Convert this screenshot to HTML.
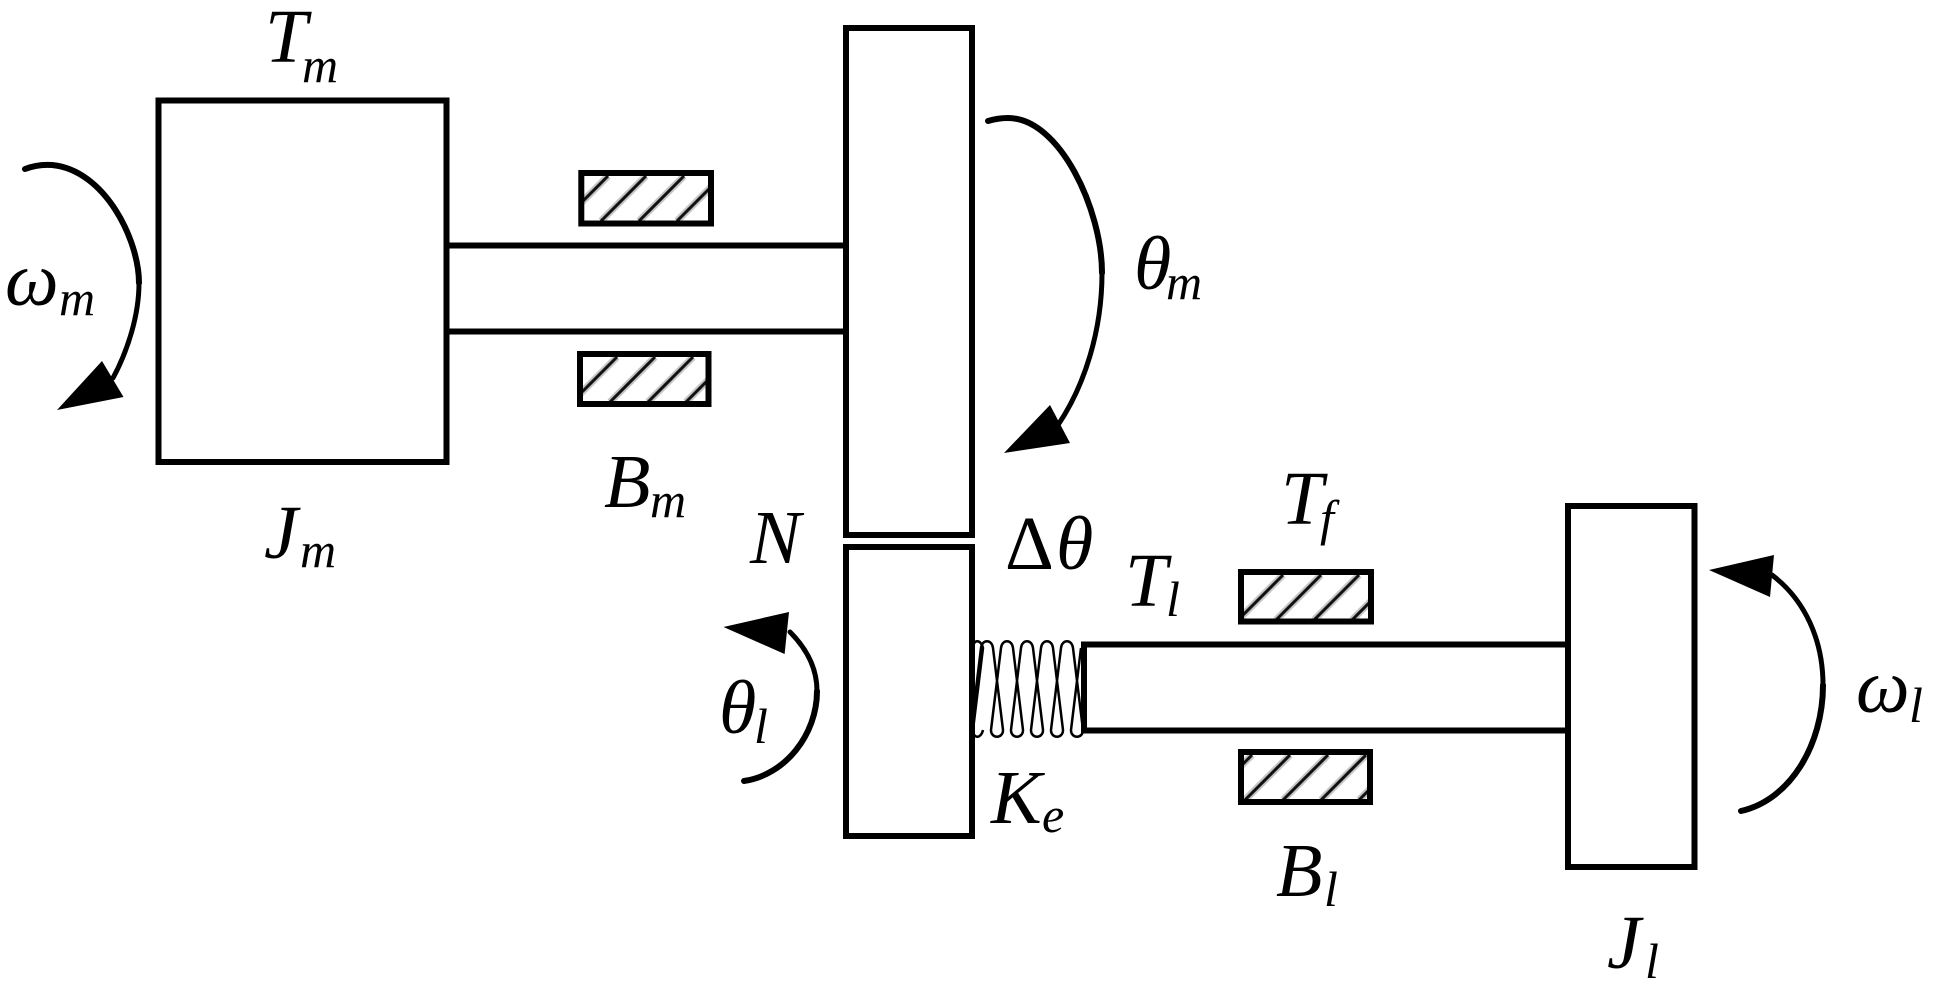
<!DOCTYPE html>
<html><head><meta charset="utf-8"><style>html,body{margin:0;padding:0;background:#fff;width:1936px;height:996px;overflow:hidden}svg{display:block}text{font-family:"Liberation Serif",serif;font-style:italic;fill:#000}.b{font-size:76px}.s{font-size:50px}.h2 line{stroke:#c4c4c4;stroke-width:7}.h line{stroke:#111;stroke-width:3}</style></head><body>
<svg width="1936" height="996" viewBox="0 0 1936 996" xmlns="http://www.w3.org/2000/svg">
<defs>
<clipPath id="c1"><rect x="584" y="176" width="124" height="45"/></clipPath>
<clipPath id="c2"><rect x="583" y="357" width="123" height="45"/></clipPath>
<clipPath id="c3"><rect x="1244" y="575" width="124" height="44"/></clipPath>
<clipPath id="c4"><rect x="1244" y="755" width="123" height="45"/></clipPath>
</defs>
<rect width="1936" height="996" fill="#fff"/>
<g class="h2">
<g clip-path="url(#c1)"><line x1="608" y1="176" x2="563" y2="221"/><line x1="646" y1="176" x2="601" y2="221"/><line x1="684" y1="176" x2="639" y2="221"/><line x1="722" y1="176" x2="677" y2="221"/></g>
<g clip-path="url(#c2)"><line x1="617" y1="357" x2="572" y2="402"/><line x1="655" y1="357" x2="610" y2="402"/><line x1="693" y1="357" x2="648" y2="402"/><line x1="731" y1="357" x2="686" y2="402"/></g>
<g clip-path="url(#c3)"><line x1="1283" y1="575" x2="1238" y2="620"/><line x1="1321" y1="575" x2="1276" y2="620"/><line x1="1359" y1="575" x2="1314" y2="620"/><line x1="1397" y1="575" x2="1352" y2="620"/></g>
<g clip-path="url(#c4)"><line x1="1252" y1="755" x2="1207" y2="800"/><line x1="1290" y1="755" x2="1245" y2="800"/><line x1="1328" y1="755" x2="1283" y2="800"/><line x1="1366" y1="755" x2="1321" y2="800"/><line x1="1404" y1="755" x2="1359" y2="800"/></g>
</g>
<g class="h">
<g clip-path="url(#c1)"><line x1="608" y1="176" x2="563" y2="221"/><line x1="646" y1="176" x2="601" y2="221"/><line x1="684" y1="176" x2="639" y2="221"/><line x1="722" y1="176" x2="677" y2="221"/></g>
<g clip-path="url(#c2)"><line x1="617" y1="357" x2="572" y2="402"/><line x1="655" y1="357" x2="610" y2="402"/><line x1="693" y1="357" x2="648" y2="402"/><line x1="731" y1="357" x2="686" y2="402"/></g>
<g clip-path="url(#c3)"><line x1="1283" y1="575" x2="1238" y2="620"/><line x1="1321" y1="575" x2="1276" y2="620"/><line x1="1359" y1="575" x2="1314" y2="620"/><line x1="1397" y1="575" x2="1352" y2="620"/></g>
<g clip-path="url(#c4)"><line x1="1252" y1="755" x2="1207" y2="800"/><line x1="1290" y1="755" x2="1245" y2="800"/><line x1="1328" y1="755" x2="1283" y2="800"/><line x1="1366" y1="755" x2="1321" y2="800"/><line x1="1404" y1="755" x2="1359" y2="800"/></g>
</g>
<g fill="none" stroke="#000" stroke-width="6">
<rect x="158.5" y="100.5" width="288" height="361.5"/>
<rect x="846" y="28" width="126" height="507"/>
<rect x="846" y="547" width="126" height="289"/>
<rect x="1568" y="506" width="126.500" height="361"/>
<path d="M447 245.500H846M447 331.500H846"/>
<path d="M1084 644.500H1568M1084 730.500H1568M1084 641.500V733.500"/>
<rect x="581.300" y="173" width="129.700" height="50.500"/>
<rect x="580" y="354" width="128.500" height="50"/>
<rect x="1241" y="572" width="130" height="49.500"/>
<rect x="1241" y="752" width="129" height="50"/>
</g>
<path fill="none" stroke="#000" stroke-width="2.500" d="M971 730L981 648C982 639 992 639 993 648L1003 730C1003 739 991 739 991 730L1001 648C1002 639 1012 639 1013 648L1023 730C1023 739 1011 739 1011 730L1021 648C1022 639 1032 639 1033 648L1043 730C1043 739 1031 739 1031 730L1041 648C1042 639 1052 639 1053 648L1063 730C1063 739 1051 739 1051 730L1061 648C1062 639 1072 639 1073 648L1083 730C1083 739 1071 739 1071 730L1081 648M973 648C973 639 981 639 983 648L973 730C973 739 981 739 983 730"/>
<g fill="none" stroke="#000" stroke-linecap="round">
<path stroke-width="6" d="M25 169Q38 164 52 165C105 170 139 240 139 283"/>
<path stroke-width="5" d="M139 283C139 315 128 350 113 378"/>
<path stroke-width="6" d="M988 121Q998 118 1008 118C1060 118 1102 210 1102 273"/>
<path stroke-width="5" d="M1102 273C1102 330 1085 385 1058 425"/>
<path stroke-width="6" d="M744 781C785 775 817 735 817 691"/>
<path stroke-width="5" d="M817 691C817 670 808 650 790 632"/>
<path stroke-width="6" d="M1741 811C1790 800 1823 745 1823 685"/>
<path stroke-width="5" d="M1823 685C1823 640 1805 600 1772 575"/>
</g>
<g fill="#000">
<polygon points="57,410 102,361 123.500,397"/>
<polygon points="1004,453 1050,405 1070,443"/>
<polygon points="723.500,627 789,612 784.600,654"/>
<polygon points="1709,570 1774,555 1770,597"/>
</g>
<text class="b" x="265" y="62">T</text><text class="s" x="302" y="82">m</text>
<text class="b" x="5" y="305">ω</text><text class="s" x="59" y="315">m</text>
<text class="b" x="604" y="507">B</text><text class="s" x="650" y="517">m</text>
<text class="b" x="264" y="558">J</text><text class="s" x="300" y="567">m</text>
<text class="b" x="750" y="563">N</text>
<text class="b" x="1134" y="289">θ</text><text class="s" x="1166" y="299">m</text>
<text class="b" x="719" y="733">θ</text><text class="s" x="754" y="743">l</text>
<text x="1005" y="569" style="font-size:76px;font-style:normal">Δ</text><text class="b" x="1056" y="569">θ</text>
<text class="b" x="1281" y="524">T</text><text class="s" x="1320" y="535">f</text>
<text class="b" x="1125" y="606">T</text><text class="s" x="1166" y="616">l</text>
<text class="b" x="991" y="823">K</text><text class="s" x="1042" y="832">e</text>
<text class="b" x="1276" y="896">B</text><text class="s" x="1324" y="906">l</text>
<text class="b" x="1607" y="968">J</text><text class="s" x="1645" y="978">l</text>
<text class="b" x="1856" y="712">ω</text><text class="s" x="1909" y="722">l</text>
</svg>
</body></html>
